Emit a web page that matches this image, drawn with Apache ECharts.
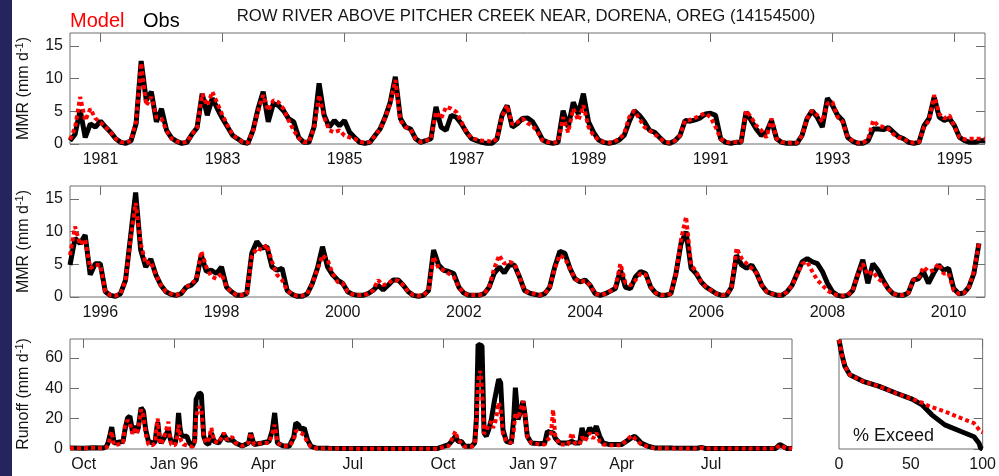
<!DOCTYPE html>
<html>
<head>
<meta charset="utf-8">
<script src="https://cdn.jsdelivr.net/npm/echarts@6/dist/echarts.min.js"></script>
<style>
html, body { margin: 0; padding: 0; background: #ffffff; }
#chart { width: 999px; height: 476px; }
</style>
</head>
<body>
<div id="chart"></div>
<script>
// Row River above Pitcher Creek near Dorena, Oreg (14154500)
// Monthly mean runoff (mm/d), model vs. observed, plus a daily hydrograph
// for water years 1996-1997 and the flow exceedance curve.

// ---- monthly series, first panel: one value per month from mid-1980 ----
const obsMMR1 = [
  0.5, 1.5, 5.2, 1.0, 3.1, 2.6, 3.5, 2.6, 1.8, 0.8,
  0.25, 0.1, 0.5, 3.1, 12.7, 6.7, 8.0, 3.4, 5.4, 2.1,
  0.9, 0.4, 0.1, 0.25, 1.5, 2.5, 7.7, 4.4, 7.0, 5.4,
  3.9, 2.6, 1.3, 0.8, 0.25, 0.1, 2.1, 5.4, 8.0, 3.4,
  6.2, 5.9, 5.1, 3.9, 3.4, 1.0, 0.25, 0.25, 2.6, 9.3,
  4.4, 2.6, 3.6, 2.8, 3.6, 1.8, 1.0, 0.25, 0.1, 0.25,
  1.3, 2.3, 4.1, 6.4, 10.3, 3.9, 2.6, 2.3, 0.8, 0.25,
  0.5, 0.8, 5.7, 2.6, 2.1, 4.4, 4.1, 3.1, 1.8, 0.8,
  0.5, 0.25, 0.1, 0.1, 0.8, 4.4, 5.9, 2.6, 3.1, 3.9,
  4.0, 3.4, 2.1, 0.6, 0.25, 0.1, 0.25, 5.1, 2.6, 6.4,
  4.6, 7.7, 3.4, 1.8, 0.6, 0.25, 0.1, 0.25, 0.6, 1.3,
  3.4, 5.1, 4.4, 3.4, 2.1, 1.8, 1.0, 0.25, 0.1, 0.5,
  1.3, 3.6, 3.5, 3.7, 4.0, 4.6, 4.7, 4.4, 0.8, 0.25,
  0.1, 0.25, 0.25, 4.9, 3.6, 2.3, 1.3, 1.8, 3.6, 0.8,
  0.25, 0.1, 0.1, 0.1, 1.3, 3.9, 5.1, 4.1, 2.6, 7.0,
  5.9, 4.4, 3.6, 1.0, 0.4, 0.1, 0.1, 0.5, 2.3, 2.3,
  2.2, 2.5, 1.8, 1.1, 0.8, 0.25, 0.1, 0.25, 2.8, 3.9,
  7.2, 4.1, 3.6, 3.9, 2.8, 1.0, 0.5, 0.25, 0.25, 0.5, 0.5
];
const modelMMR1 = [
  0.7, 2.5, 7.2, 3.6, 5.4, 3.9, 3.3, 2.6, 1.8, 0.8,
  0.3, 0.2, 0.5, 3.5, 12.4, 5.9, 7.2, 4.1, 3.9, 2.0,
  0.8, 0.4, 0.2, 0.3, 1.5, 2.5, 7.7, 5.9, 8.0, 6.2,
  4.4, 2.8, 1.4, 0.8, 0.3, 0.2, 2.0, 5.0, 7.5, 5.1,
  6.7, 6.4, 5.4, 3.6, 2.1, 0.9, 0.3, 0.3, 2.4, 7.5,
  4.1, 2.1, 1.8, 2.1, 1.3, 1.0, 0.8, 0.3, 0.2, 0.3,
  1.3, 2.3, 4.0, 6.2, 9.8, 3.6, 2.6, 2.2, 0.8, 0.3,
  0.5, 0.8, 4.9, 3.9, 5.7, 5.4, 4.9, 3.4, 1.8, 0.9,
  0.7, 0.5, 0.5, 0.3, 0.8, 4.2, 5.9, 3.0, 3.3, 3.9,
  3.2, 2.8, 1.8, 0.5, 0.3, 0.2, 0.3, 4.1, 1.8, 5.4,
  3.6, 5.9, 2.6, 1.3, 0.6, 0.3, 0.2, 0.3, 0.8, 1.5,
  4.1, 5.1, 3.9, 2.6, 2.1, 1.5, 0.9, 0.3, 0.2, 0.5,
  1.3, 3.6, 3.7, 4.0, 4.4, 4.7, 4.1, 2.6, 0.8, 0.3,
  0.2, 0.3, 0.3, 5.1, 4.1, 2.8, 2.1, 1.0, 3.9, 0.8,
  0.3, 0.2, 0.2, 0.2, 1.3, 3.9, 5.1, 4.4, 3.4, 6.2,
  6.4, 4.1, 3.4, 1.0, 0.5, 0.2, 0.2, 0.7, 3.6, 2.8,
  2.6, 2.3, 1.5, 1.0, 0.8, 0.3, 0.2, 0.3, 2.6, 3.6,
  7.5, 4.6, 3.9, 4.4, 2.6, 1.0, 0.7, 0.8, 0.8, 0.8, 0.8
];

// ---- monthly series, second panel: one value per month from mid-1995 ----
const obsMMR2 = [
  4.9, 9.0, 8.2, 9.5, 3.4, 5.1, 5.1, 0.8, 0.25, 0.1,
  0.5, 2.6, 9.3, 16.0, 7.2, 4.6, 5.8, 3.4, 1.8, 0.8,
  0.4, 0.25, 0.5, 1.5, 1.8, 2.6, 6.4, 3.9, 4.1, 3.6,
  4.6, 1.5, 0.8, 0.25, 0.25, 0.5, 6.7, 8.5, 7.5, 7.7,
  4.6, 4.1, 4.4, 1.0, 0.4, 0.1, 0.1, 0.5, 2.1, 4.4,
  7.7, 4.6, 3.4, 2.6, 2.1, 0.8, 0.4, 0.25, 0.25, 0.5,
  1.0, 1.8, 1.1, 1.8, 2.6, 2.6, 1.8, 0.8, 0.25, 0.1,
  0.25, 1.0, 7.2, 4.9, 4.1, 3.9, 3.6, 1.5, 0.6, 0.25,
  0.25, 0.25, 0.5, 1.5, 3.6, 4.6, 3.7, 4.9, 4.9, 3.1,
  1.0, 0.6, 0.4, 0.25, 0.5, 1.5, 4.6, 7.0, 6.7, 4.4,
  2.8, 2.3, 2.6, 1.8, 0.5, 0.25, 0.5, 0.9, 1.3, 4.1,
  1.5, 1.3, 3.1, 3.9, 3.6, 1.5, 0.6, 0.25, 0.25, 0.5,
  3.6, 8.2, 10.0, 4.4, 3.6, 2.3, 1.5, 1.0, 0.5, 0.25,
  0.25, 1.5, 6.4, 4.9, 4.4, 4.9, 3.6, 1.8, 0.8, 0.5,
  0.25, 0.25, 0.8, 1.8, 3.6, 5.4, 5.9, 5.4, 5.1, 3.9,
  2.1, 0.8, 0.25, 0.1, 0.25, 1.0, 3.4, 5.7, 2.1, 5.1,
  4.1, 2.6, 1.3, 0.5, 0.25, 0.25, 0.6, 2.6, 2.8, 3.9,
  2.1, 3.6, 4.9, 4.1, 4.4, 1.3, 0.5, 0.6, 1.5, 3.6, 8.2
];
const modelMMR2 = [
  6.4, 10.8, 8.0, 8.8, 4.4, 4.9, 4.9, 0.8, 0.3, 0.2,
  0.5, 2.6, 8.8, 14.4, 8.2, 5.1, 5.4, 3.4, 1.8, 0.8,
  0.5, 0.3, 0.5, 1.5, 2.1, 2.6, 7.0, 4.6, 3.1, 2.8,
  3.6, 1.5, 0.8, 0.3, 0.3, 0.5, 6.2, 7.5, 7.2, 8.0,
  5.4, 3.4, 2.6, 1.0, 0.4, 0.2, 0.2, 0.5, 2.1, 4.2,
  6.4, 5.7, 3.6, 2.3, 2.1, 0.8, 0.4, 0.3, 0.3, 0.5,
  1.0, 2.6, 1.8, 2.1, 2.6, 2.5, 1.8, 0.8, 0.3, 0.2,
  0.3, 1.0, 6.2, 4.4, 4.1, 3.6, 3.1, 1.5, 0.6, 0.3,
  0.3, 0.3, 0.5, 1.5, 4.4, 6.4, 5.1, 5.4, 5.1, 3.1,
  1.0, 0.6, 0.5, 0.3, 0.5, 1.5, 4.4, 6.4, 5.9, 4.4,
  2.8, 2.3, 2.5, 1.8, 0.5, 0.3, 0.5, 0.9, 1.5, 5.1,
  2.1, 1.8, 2.6, 3.6, 3.4, 1.5, 0.6, 0.3, 0.3, 0.5,
  3.6, 8.8, 12.3, 4.9, 3.9, 2.3, 1.5, 1.0, 0.5, 0.3,
  0.3, 1.5, 7.5, 5.9, 5.1, 4.4, 3.6, 1.8, 0.8, 0.5,
  0.3, 0.3, 0.8, 1.8, 3.4, 5.1, 5.4, 3.9, 2.6, 1.8,
  1.0, 0.5, 0.3, 0.2, 0.3, 1.0, 3.4, 5.1, 3.4, 3.9,
  2.8, 2.3, 1.3, 0.5, 0.3, 0.3, 0.6, 2.6, 2.8, 4.6,
  3.9, 4.1, 5.1, 3.6, 3.6, 1.0, 0.5, 0.6, 1.5, 3.9, 8.2
];
const start1 = 1980.5;   // first month of panel 1 (decimal year)
const start2 = 1995.5;   // first month of panel 2
const yearTicks1 = [1981, 1983, 1985, 1987, 1989, 1991, 1993, 1995];
const yearTicks2 = [1996, 1998, 2000, 2002, 2004, 2006, 2008, 2010];
const mmrTicks = [0, 5, 10, 15];

// ---- daily runoff, [day since 1 Oct 1995, mm/d] ----
const obsRunoff = [
  [-14,0.6],[0,0.5],[10,0.8],[20,0.7],[23,1.5],[25,4.5],[27,10],[28.5,14.5],[30,8],[31,4],
  [35,4.4],[40,5],[42,12.8],[44.7,20.5],[47,21.6],[48.5,16],[49.5,12],[51.5,15],[53.9,11],[55.6,14],
  [58.4,27.2],[60.8,25],[63.1,12.8],[65.9,5],[70,4],[72.7,4.5],[74,12],[75.4,17.7],[77,8],[78.8,4],
  [82.9,8.4],[86.3,12.8],[88,7],[89.1,5],[93.2,4],[95,10],[96.6,23.8],[98,14],[99.3,9.5],[101.7,8.4],
  [105.1,8.4],[107.5,4],[110.9,2],[113,6],[114.5,32.7],[117.7,37],[119.8,36],[122.2,8.4],[124.6,4],[127.3,3],
  [130,10.6],[132.8,5],[137.5,4],[142.7,9.5],[146.1,6],[151.2,6],[154.6,4],[161.4,2],[168,4],[170,10.6],
  [173.4,3],[181.9,4],[188.7,5],[192,12],[194.5,23.8],[196,14],[197.3,4],[202.4,2.2],[209.2,1.8],[214,8],
  [216,17.2],[218.8,16],[221.2,12.8],[224.6,13.9],[228,6],[231.4,1.8],[236.5,0.7],[250,0.5],[270,0.4],[300,0.3],
  [330,0.3],[360,0.3],[371.8,2.9],[376.2,6.2],[378.6,8.4],[381.3,5],[384.7,5],[388.1,1.8],[394.9,1.8],[398.3,4],
  [400,20],[401.7,69],[405.7,68],[407.8,10.6],[410.1,8.4],[412.5,12.8],[415.2,19.4],[416.9,20.5],[418.6,32.7],[420.5,32],
  [422.7,45.9],[424.7,43.7],[427.1,12.8],[430.5,5],[435.6,4],[438,20],[439.7,40.4],[442.4,19.4],[445,25],[447.5,31.6],
  [449.2,24],[451.9,8.4],[456,4],[464.5,3.5],[469.6,4],[472.3,11.7],[475.7,10.6],[478.1,11],[480.4,7],[484.8,4],
  [493.3,4],[497.4,5],[500.1,4],[505.2,4],[507.6,13.9],[510.3,6.2],[515.4,13.9],[518.8,10.6],[522.2,15],[525.6,8.4],
  [529,4],[535.8,2.9],[547.7,2.9],[557.9,7.3],[561.2,8.4],[564.6,6.2],[568,4],[574.8,1.8],[581.6,0.7],[600,0.6],
  [625,0.5],[629.2,1.1],[633,0.4],[680,0.3],[705,0.4],[709,2.9],[712.4,1.8],[716,0.4],[721.5,0.3]
];
const modelRunoff = [
  [-14,0.6],[0,0.5],[10,0.8],[20,0.5],[23,1],[25,3],[27,8],[28.5,11.7],[30,5],[31,2.5],
  [35,3],[40,4],[42,15],[44.7,19],[47,17],[48.5,13],[49.5,10],[51.5,13],[53.9,10],[55.6,13],
  [58.4,26],[60.8,22],[63.1,10],[65.9,3],[70,2.5],[72.7,4],[74,14],[75.4,20],[77,6],[78.8,3],
  [82.9,10],[86.3,18],[88,6],[89.1,3],[93.2,2.5],[95,8],[96.6,16],[98,10],[99.3,5],[101.7,3],
  [105.1,2.5],[107.5,2],[110.9,1.5],[113,4],[114.5,22],[117.7,28],[119.8,26],[122.2,8],[124.6,4],[127.3,6],
  [130,13.9],[132.8,5],[137.5,4],[142.7,10.6],[146.1,6],[151.2,8],[154.6,4],[161.4,2],[168,4],[170,10.6],
  [173.4,3],[181.9,4],[188.7,4],[192,10],[194.5,16],[196,10],[197.3,4],[202.4,2],[209.2,1.8],[214,6],
  [216,12],[218.8,11],[221.2,10.6],[224.6,9],[228,4],[231.4,1.5],[236.5,0.5],[250,0.3],[300,0.2],[360,0.2],
  [371.8,2],[376.2,8],[378.6,11.7],[381.3,6],[384.7,4],[388.1,1.5],[394.9,1.5],[398.3,3],[400,15],[401.7,45],
  [404,51.4],[405.7,40],[407.8,10],[410.1,12],[412.5,16],[415.2,18],[416.9,14],[418.6,16],[420.5,22],[422.7,30.5],
  [424.7,26],[427.1,10],[430.5,5],[435.6,4],[438,12],[439.7,23.8],[442.4,20],[445,26],[447.5,31.6],[449.2,24],
  [451.9,8],[456,4],[464.5,3],[469.6,3],[472.3,6],[475.7,8],[478.1,26],[480.4,8],[484.8,3],[493.3,3],
  [497.4,10.6],[500.1,4],[505.2,3],[507.6,8],[510.3,5],[515.4,10.6],[518.8,7],[522.2,10.6],[525.6,5],[529,3],
  [535.8,2.5],[547.7,2.5],[557.9,8.8],[561.2,7],[564.6,5],[568,3],[574.8,1.5],[581.6,0.5],[600,0.4],[625,0.3],
  [629.2,0.8],[633,0.3],[680,0.3],[705,0.3],[709,2.5],[712.4,1.5],[716,0.3],[721.5,0.3]
];
const dayTicks = [0, 92, 183, 274, 366, 458, 548, 639];
const dayTickLabels = ['Oct', 'Jan 96', 'Apr', 'Jul', 'Oct', 'Jan 97', 'Apr', 'Jul'];
const runoffTicks = [0, 20, 40, 60];

// ---- flow exceedance (% of days exceeded, mm/d) ----
const excObsPct   = [0, 1.8, 4.1, 7.5, 16.7, 28, 39.5, 50.9, 57.8, 64.6, 73.7, 85, 94, 97.5, 98.6, 100];
const excObsVal   = [72, 63, 54.5, 49, 44.6, 41.3, 36.9, 32.9, 29.1, 22.5, 15.9, 11.5, 8.1, 3.8, 0.5, 0];
const excModelPct = [0, 1.8, 4.1, 7.5, 16.7, 28, 39.5, 50.9, 57.8, 62, 73.7, 85, 94, 98.6, 100];
const excModelVal = [72, 63, 54.5, 49, 44.6, 41.3, 36.9, 33, 30.5, 28.5, 24.7, 20.3, 17, 11.5, 11];
const excTicks = [0, 50, 100];

// ---------------------------------------------------------------------
const FONT = '"Liberation Sans", Arial, Helvetica, sans-serif';
const FRAME = '#6e6e6e';
const TEXT = '#141414';
const RED = '#ff0000';

const monthly = (start, vals) => vals.map((v, i) => [start + i / 12, v]);
const zip = (xs, ys) => xs.map((x, i) => [x, ys[i]]);

// axes sit on the grid edges, never on the other axis' zero
const noLine = { show: false, onZero: false };
const tickInside = (vals) => ({
  show: true, inside: true, length: 9, customValues: vals,
  lineStyle: { color: FRAME, width: 1 }
});
const labelStyle = { color: TEXT, fontSize: 16, fontFamily: FONT };

// two x axes (labels below, ticks along the top) for one grid
function xAxes(gi, min, max, vals, fmt) {
  return [
    { type: 'value', gridIndex: gi, position: 'bottom', min, max,
      axisLine: noLine, axisTick: { show: false }, splitLine: { show: false },
      axisLabel: Object.assign({ customValues: vals, formatter: fmt, margin: 8 }, labelStyle) },
    { type: 'value', gridIndex: gi, position: 'top', min, max,
      axisLine: noLine, axisTick: tickInside(vals), splitLine: { show: false },
      axisLabel: { show: false } }
  ];
}
// two y axes (left labels + ticks, right ticks) for one grid
function yAxes(gi, max, vals, name, showLeft) {
  return [
    { type: 'value', gridIndex: gi, position: 'left', min: 0, max,
      axisLine: noLine, splitLine: { show: false },
      axisTick: showLeft ? tickInside(vals) : { show: false },
      axisLabel: showLeft ? Object.assign({ customValues: vals, margin: 7 }, labelStyle) : { show: false },
      name: name || '', nameLocation: 'middle', nameRotate: 90, nameGap: 36,
      nameTextStyle: {
        color: TEXT, fontSize: 16, fontFamily: FONT,
        rich: { sup: { fontSize: 11, fontFamily: FONT, color: TEXT, padding: [0, 0, 9, 0] } }
      } },
    { type: 'value', gridIndex: gi, position: 'right', min: 0, max,
      axisLine: noLine, splitLine: { show: false },
      axisTick: tickInside(vals), axisLabel: { show: false } }
  ];
}

function pair(gi, obs, model) {
  return [
    { type: 'line', xAxisIndex: 2 * gi, yAxisIndex: 2 * gi, data: obs,
      symbol: 'none', z: 2, lineStyle: { color: '#000000', width: 5 } },
    { type: 'line', xAxisIndex: 2 * gi, yAxisIndex: 2 * gi, data: model,
      symbol: 'none', z: 3, lineStyle: { color: RED, width: 4, type: [4, 3] } }
  ];
}

const gridBox = { show: true, borderColor: FRAME, borderWidth: 1, backgroundColor: 'transparent' };
const dayLabel = (v) => { const k = dayTicks.indexOf(v); return k >= 0 ? dayTickLabels[k] : ''; };

const option = {
  animation: false,
  backgroundColor: '#ffffff',
  grid: [
    Object.assign({ left: 70, top: 33, width: 915, height: 111 }, gridBox),
    Object.assign({ left: 70, top: 186, width: 915, height: 111 }, gridBox),
    Object.assign({ left: 70, top: 339, width: 722, height: 110 }, gridBox),
    Object.assign({ left: 839, top: 339, width: 146, height: 110 }, gridBox)
  ],
  xAxis: [].concat(
    xAxes(0, 1980.5, 1995.5, yearTicks1, (v) => String(v)),
    xAxes(1, 1995.5, 2010.6, yearTicks2, (v) => String(v)),
    xAxes(2, -14, 721.5, dayTicks, dayLabel),
    xAxes(3, 0, 100, excTicks, (v) => String(v))
  ),
  yAxis: [].concat(
    yAxes(0, 17, mmrTicks, 'MMR (mm d{sup|-1})', true),
    yAxes(1, 17, mmrTicks, 'MMR (mm d{sup|-1})', true),
    yAxes(2, 72.5, runoffTicks, 'Runoff (mm d{sup|-1})', true),
    yAxes(3, 72.5, runoffTicks, '', false)
  ),
  series: [].concat(
    pair(0, monthly(start1, obsMMR1), monthly(start1, modelMMR1)),
    pair(1, monthly(start2, obsMMR2), monthly(start2, modelMMR2)),
    pair(2, obsRunoff, modelRunoff),
    pair(3, zip(excObsPct, excObsVal), zip(excModelPct, excModelVal))
  ),
  graphic: [
    { type: 'rect', left: 0, top: 0, z: 0, shape: { width: 12, height: 476 }, style: { fill: '#24255f' } },
    { type: 'text', x: 70, y: 21, style: { text: 'Model', fill: RED, font: '20px ' + FONT, verticalAlign: 'middle' } },
    { type: 'text', x: 143, y: 21, style: { text: 'Obs', fill: '#000000', font: '20px ' + FONT, verticalAlign: 'middle' } },
    { type: 'text', x: 526, y: 16, style: { text: 'ROW RIVER ABOVE PITCHER CREEK NEAR, DORENA, OREG (14154500)',
        fill: TEXT, font: '16.7px ' + FONT, align: 'center', verticalAlign: 'middle' } },
    { type: 'text', x: 853, y: 436, z: 10, style: { text: '% Exceed', fill: TEXT, font: '18px ' + FONT, verticalAlign: 'middle' } }
  ]
};

const chart = echarts.init(document.getElementById('chart'), null, { renderer: 'canvas', width: 999, height: 476 });
chart.setOption(option);
</script>
</body>
</html>
